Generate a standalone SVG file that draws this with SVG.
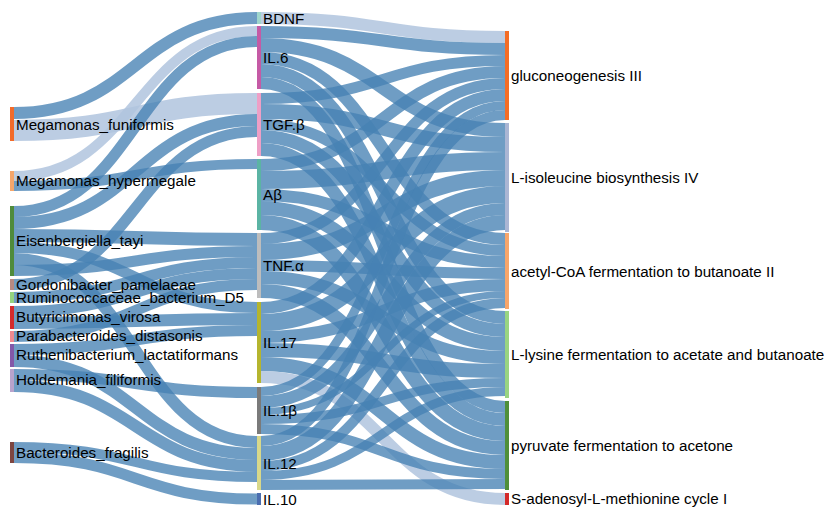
<svg xmlns="http://www.w3.org/2000/svg" width="828" height="508" viewBox="0 0 828 508">
<style>
.l{fill:none;stroke:#4682b4;stroke-opacity:0.78}
.ll{fill:none;stroke:#b0c4de;stroke-opacity:0.85}
text{font-family:"Liberation Sans",Arial,sans-serif;font-size:15.2px;fill:#000}
</style>
<rect width="828" height="508" fill="#fff"/>
<g id="links">
<path class="l" stroke-width="12" d="M14,113 C135.5,113 135.5,18 257,18"/>
<path class="ll" stroke-width="21" d="M14,130.5 C135.5,130.5 135.5,103.5 257,103.5"/>
<path class="ll" stroke-width="10" d="M14,176 C135.5,176 135.5,31 257,31"/>
<path class="l" stroke-width="10" d="M14,186 C135.5,186 135.5,164 257,164"/>
<path class="l" stroke-width="11" d="M14,211.5 C135.5,211.5 135.5,41.5 257,41.5"/>
<path class="l" stroke-width="12" d="M14,223 C135.5,223 135.5,120 257,120"/>
<path class="l" stroke-width="13" d="M14,235.5 C135.5,235.5 135.5,239.5 257,239.5"/>
<path class="l" stroke-width="11" d="M14,247.5 C135.5,247.5 135.5,307.5 257,307.5"/>
<path class="l" stroke-width="12" d="M14,259 C135.5,259 135.5,442 257,442"/>
<path class="l" stroke-width="11" d="M14,270.5 C135.5,270.5 135.5,251.5 257,251.5"/>
<path class="l" stroke-width="11" d="M14,284.5 C135.5,284.5 135.5,131.5 257,131.5"/>
<path class="l" stroke-width="11" d="M14,297.5 C135.5,297.5 135.5,262.5 257,262.5"/>
<path class="l" stroke-width="11" d="M14,311.5 C135.5,311.5 135.5,273.5 257,273.5"/>
<path class="l" stroke-width="12" d="M14,323 C135.5,323 135.5,319 257,319"/>
<path class="l" stroke-width="11" d="M14,336.5 C135.5,336.5 135.5,284.5 257,284.5"/>
<path class="l" stroke-width="11" d="M14,349.5 C135.5,349.5 135.5,330.5 257,330.5"/>
<path class="l" stroke-width="12" d="M14,361 C135.5,361 135.5,454 257,454"/>
<path class="l" stroke-width="11" d="M14,374.5 C135.5,374.5 135.5,392.5 257,392.5"/>
<path class="l" stroke-width="12" d="M14,386 C135.5,386 135.5,466 257,466"/>
<path class="l" stroke-width="10" d="M14,447 C135.5,447 135.5,477 257,477"/>
<path class="l" stroke-width="11" d="M14,457.5 C135.5,457.5 135.5,499 257,499"/>
<path class="ll" stroke-width="12" d="M261,18 C383,18 383,37 505,37"/>
<path class="l" stroke-width="12" d="M261,32 C383,32 383,49 505,49"/>
<path class="l" stroke-width="14" d="M261,45 C383,45 383,130 505,130"/>
<path class="l" stroke-width="12" d="M261,58 C383,58 383,239 505,239"/>
<path class="l" stroke-width="13" d="M261,70.5 C383,70.5 383,317.5 505,317.5"/>
<path class="l" stroke-width="12" d="M261,83 C383,83 383,407 505,407"/>
<path class="l" stroke-width="11" d="M261,98.5 C383,98.5 383,60.5 505,60.5"/>
<path class="l" stroke-width="15" d="M261,111.5 C383,111.5 383,144.5 505,144.5"/>
<path class="l" stroke-width="11" d="M261,124.5 C383,124.5 383,250.5 505,250.5"/>
<path class="l" stroke-width="13" d="M261,136.5 C383,136.5 383,330.5 505,330.5"/>
<path class="l" stroke-width="13" d="M261,149.5 C383,149.5 383,419.5 505,419.5"/>
<path class="l" stroke-width="12" d="M261,165 C383,165 383,72 505,72"/>
<path class="l" stroke-width="18" d="M261,180 C383,180 383,161 505,161"/>
<path class="l" stroke-width="12" d="M261,195 C383,195 383,262 505,262"/>
<path class="l" stroke-width="14" d="M261,208 C383,208 383,344 505,344"/>
<path class="l" stroke-width="15" d="M261,222.5 C383,222.5 383,433.5 505,433.5"/>
<path class="l" stroke-width="11" d="M261,238.5 C383,238.5 383,83.5 505,83.5"/>
<path class="l" stroke-width="16" d="M261,252 C383,252 383,178 505,178"/>
<path class="l" stroke-width="11" d="M261,265.5 C383,265.5 383,273.5 505,273.5"/>
<path class="l" stroke-width="13" d="M261,277.5 C383,277.5 383,357.5 505,357.5"/>
<path class="l" stroke-width="14" d="M261,291 C383,291 383,448 505,448"/>
<path class="l" stroke-width="12" d="M261,308 C383,308 383,95 505,95"/>
<path class="l" stroke-width="17" d="M261,322.5 C383,322.5 383,194.5 505,194.5"/>
<path class="l" stroke-width="12" d="M261,337 C383,337 383,285 505,285"/>
<path class="l" stroke-width="14" d="M261,350 C383,350 383,371 505,371"/>
<path class="l" stroke-width="14" d="M261,364 C383,364 383,462 505,462"/>
<path class="ll" stroke-width="12" d="M261,377 C383,377 383,499 505,499"/>
<path class="l" stroke-width="9" d="M261,391.5 C383,391.5 383,105.5 505,105.5"/>
<path class="l" stroke-width="12" d="M261,402 C383,402 383,209 505,209"/>
<path class="l" stroke-width="7" d="M261,411.5 C383,411.5 383,294.5 505,294.5"/>
<path class="l" stroke-width="9" d="M261,419.5 C383,419.5 383,382.5 505,382.5"/>
<path class="l" stroke-width="10" d="M261,429 C383,429 383,474 505,474"/>
<path class="l" stroke-width="10" d="M261,441 C383,441 383,115 505,115"/>
<path class="l" stroke-width="15" d="M261,453.5 C383,453.5 383,222.5 505,222.5"/>
<path class="l" stroke-width="10" d="M261,466 C383,466 383,303 505,303"/>
<path class="l" stroke-width="9" d="M261,475.5 C383,475.5 383,391.5 505,391.5"/>
<path class="l" stroke-width="10" d="M261,485 C383,485 383,484 505,484"/>
</g>
<g id="n-megamonas-funiformis"><rect x="10" y="107" width="4" height="34" fill="#f26b2a"/><text x="16" y="130">Megamonas_funiformis</text></g>
<g id="n-megamonas-hypermegale"><rect x="10" y="171" width="4" height="20" fill="#f5a66b"/><text x="16" y="186">Megamonas_hypermegale</text></g>
<g id="n-eisenbergiella"><rect x="10" y="206" width="4" height="70" fill="#4f8b3b"/><text x="16" y="246">Eisenbergiella_tayi</text></g>
<g id="n-gordonibacter"><rect x="10" y="279" width="4" height="11" fill="#b88a82"/><text x="16" y="290">Gordonibacter_pamelaeae</text></g>
<g id="n-ruminococcaceae"><rect x="10" y="292" width="4" height="11" fill="#95d47f"/><text x="16" y="303">Ruminococcaceae_bacterium_D5</text></g>
<g id="n-butyricimonas"><rect x="10" y="306" width="4" height="23" fill="#d42a2a"/><text x="16" y="322">Butyricimonas_virosa</text></g>
<g id="n-parabacteroides"><rect x="10" y="331" width="4" height="11" fill="#f08a90"/><text x="16" y="341">Parabacteroides_distasonis</text></g>
<g id="n-ruthenibacterium"><rect x="10" y="344" width="4" height="23" fill="#8358a8"/><text x="16" y="360">Ruthenibacterium_lactatiformans</text></g>
<g id="n-holdemania"><rect x="10" y="369" width="4" height="23" fill="#b9a3cc"/><text x="16" y="385">Holdemania_filiformis</text></g>
<g id="n-bacteroides"><rect x="10" y="442" width="4" height="21" fill="#7d4540"/><text x="16" y="458">Bacteroides_fragilis</text></g>
<g id="n-bdnf"><rect x="257" y="12" width="4" height="12" fill="#9fd6cc"/><text x="263" y="24">BDNF</text></g>
<g id="n-il6"><rect x="257" y="26" width="4" height="63" fill="#c55aa5"/><text x="263" y="63">IL.6</text></g>
<g id="n-tgfb"><rect x="257" y="93" width="4" height="63" fill="#ee9fc6"/><text x="263" y="130">TGF.β</text></g>
<g id="n-abeta"><rect x="257" y="159" width="4" height="71" fill="#5bb4a4"/><text x="263" y="200">Aβ</text></g>
<g id="n-tnfa"><rect x="257" y="233" width="4" height="65" fill="#bdbdbd"/><text x="263" y="271">TNF.α</text></g>
<g id="n-il17"><rect x="257" y="302" width="4" height="81" fill="#b5b52e"/><text x="263" y="348">IL.17</text></g>
<g id="n-il1b"><rect x="257" y="387" width="4" height="47" fill="#7a7a7a"/><text x="263" y="416">IL.1β</text></g>
<g id="n-il12"><rect x="257" y="436" width="4" height="54" fill="#d8d88a"/><text x="263" y="469">IL.12</text></g>
<g id="n-il10"><rect x="257" y="493" width="4" height="12" fill="#4a6db0"/><text x="263" y="505">IL.10</text></g>
<g id="n-gluco"><rect x="505" y="31" width="4" height="89" fill="#f46d25"/><text x="511" y="81">gluconeogenesis III</text></g>
<g id="n-liso"><rect x="505" y="123" width="4" height="109" fill="#aab6d4"/><text x="511" y="183">L-isoleucine biosynthesis IV</text></g>
<g id="n-acetyl"><rect x="505" y="233" width="4" height="76" fill="#f7a66b"/><text x="511" y="277">acetyl-CoA fermentation to butanoate II</text></g>
<g id="n-lysine"><rect x="505" y="311" width="4" height="87" fill="#99d482"/><text x="511" y="360">L-lysine fermentation to acetate and butanoate</text></g>
<g id="n-pyruvate"><rect x="505" y="401" width="4" height="89" fill="#4f8f3a"/><text x="511" y="451">pyruvate fermentation to acetone</text></g>
<g id="n-sam"><rect x="505" y="493" width="4" height="12" fill="#d42a2a"/><text x="511" y="504">S-adenosyl-L-methionine cycle I</text></g>
</svg>
